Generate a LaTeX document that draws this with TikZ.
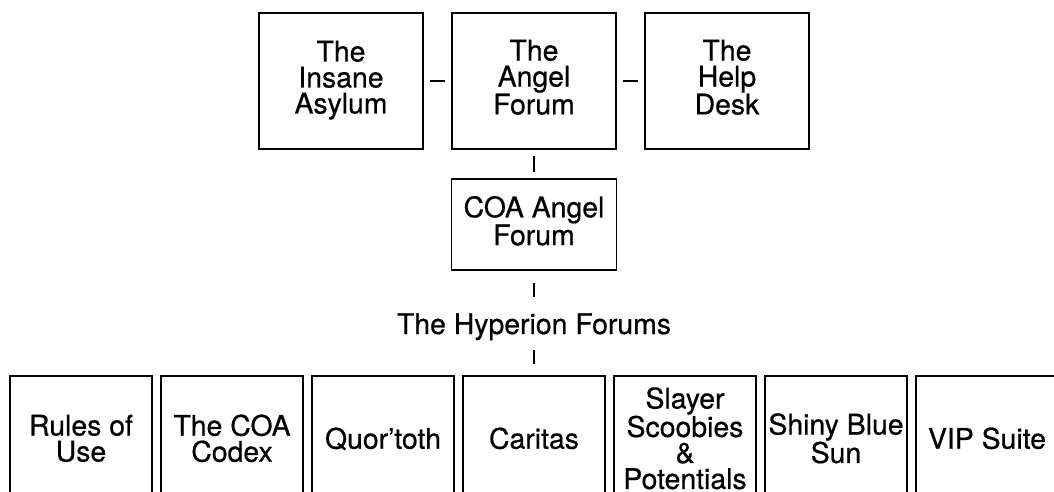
\documentclass[tikz,border=0pt]{standalone}
\usepackage{fontspec}
\setmainfont{TeX Gyre Heros}[FakeBold=0.6]
\begin{document}
\begin{tikzpicture}[x=1pt,y=-1pt,
  box/.style={draw, line width=1.3pt, inner sep=0pt, align=center, font=\fontsize{28.4}{26}\selectfont},
  topbox/.style={box, minimum width=164pt, minimum height=136pt},
  botbox/.style={box, minimum width=142pt, minimum height=132pt},
  link/.style={line width=1.3pt, shorten <=6.5pt, shorten >=6.5pt}]
\useasboundingbox (0,0) rectangle (1054,491);
% top row
\node[topbox] (ins) at (341,81) {The\\Insane\\Asylum\strut};
\node[topbox] (ang) at (534,81) {The\\Angel\\Forum\strut};
\node[topbox] (help) at (727,81) {The\\Help\\Desk\strut};
% middle
\node[box, minimum width=165pt, minimum height=91pt] (coa) at (534,224.5) {COA Angel\\Forum\strut};
\node[font=\fontsize{28.4}{26}\selectfont, inner sep=0pt, text height=20pt, text depth=6pt, anchor=base] (hyp) at (534,334) {The Hyperion Forums};
% bottom row
\node[botbox] (b1) at (81,442) {Rules of\\Use\strut};
\node[botbox] (b2) at (232,442) {The COA\\Codex\strut};
\node[botbox] (b3) at (383,442) {Quor'toth\strut};
\node[botbox] (b4) at (534,442) {Caritas\strut};
\node[botbox] (b5) at (685,442) {Slayer\\Scoobies\\\&\\Potentials\strut};
\node[botbox] (b6) at (836,442) {Shiny Blue\\Sun\strut};
\node[botbox] (b7) at (987,442) {VIP Suite\strut};
% connectors
\draw[link] (ins) -- (ang);
\draw[link] (ang) -- (help);
\draw[link] (ang) -- (coa);
\draw[line width=1.3pt, shorten <=12pt, shorten >=17pt] (coa) -- (hyp);
\draw[line width=1.3pt, shorten <=10pt, shorten >=11pt] (hyp) -- (b4);
\end{tikzpicture}
\end{document}
